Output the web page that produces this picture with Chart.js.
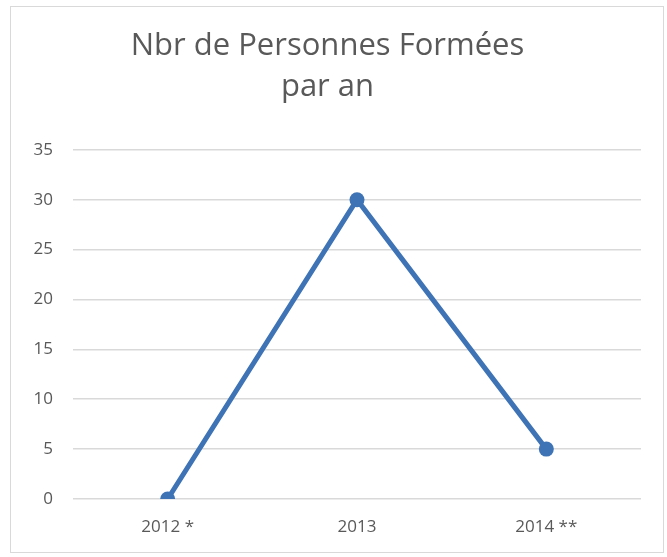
<!DOCTYPE html>
<html>
<head>
<meta charset="utf-8">
<script src="https://cdn.jsdelivr.net/npm/chart.js@4.4.1/dist/chart.umd.min.js"></script>
<style>
    html, body { margin: 0; padding: 0; background: #fff; }
    #frame { position: absolute; left: 10px; top: 6px; width: 652px; height: 545px; border: 1px solid #d9d9d9; }
    #wrap { position: absolute; left: 0; top: 0; width: 667px; height: 557px; }
</style>
</head>
<body>
<div id="frame"></div>
<div id="wrap"><canvas id="chart"></canvas></div>
<script>
// data
const years = ['2012 *', '2013', '2014 **'];
const personnes = [0, 30, 5];
const titleLines = ['Nbr de Personnes Formées', 'par an'];

const blue = '#3e73b6';
const grey = '#595959';

const ctx = document.getElementById('chart').getContext('2d');
new Chart(ctx, {
    type: 'line',
    data: {
        labels: years,
        datasets: [{
            data: personnes,
            borderColor: blue,
            backgroundColor: blue,
            borderWidth: 5,
            pointRadius: 7.5,
            pointBackgroundColor: blue,
            pointBorderWidth: 0,
            tension: 0
        }]
    },
    options: {
        responsive: true,
        maintainAspectRatio: false,
        animation: false,
        layout: { padding: { left: 14, right: 26, top: 26, bottom: 0 } },
        plugins: {
            legend: { display: false },
            tooltip: { enabled: false },
            title: {
                display: true,
                text: titleLines,
                color: grey,
                font: { family: 'Open Sans', size: 31, weight: 'normal', lineHeight: 1.32 },
                padding: { top: 0, bottom: 42 }
            }
        },
        scales: {
            x: {
                offset: true,
                grid: { display: false, drawTicks: false },
                border: { display: false },
                ticks: { color: grey, padding: 18, font: { family: 'Open Sans', size: 17 } },
                afterFit: (axis) => { axis.height = 58; }
            },
            y: {
                min: 0,
                max: 35,
                ticks: { stepSize: 5, color: grey, padding: 20, font: { family: 'Open Sans', size: 17 } },
                grid: { color: '#d9d9d9', lineWidth: 1.5, drawTicks: false },
                border: { display: false },
                afterFit: (axis) => { axis.width = 59; }
            }
        }
    }
});
</script>
</body>
</html>
